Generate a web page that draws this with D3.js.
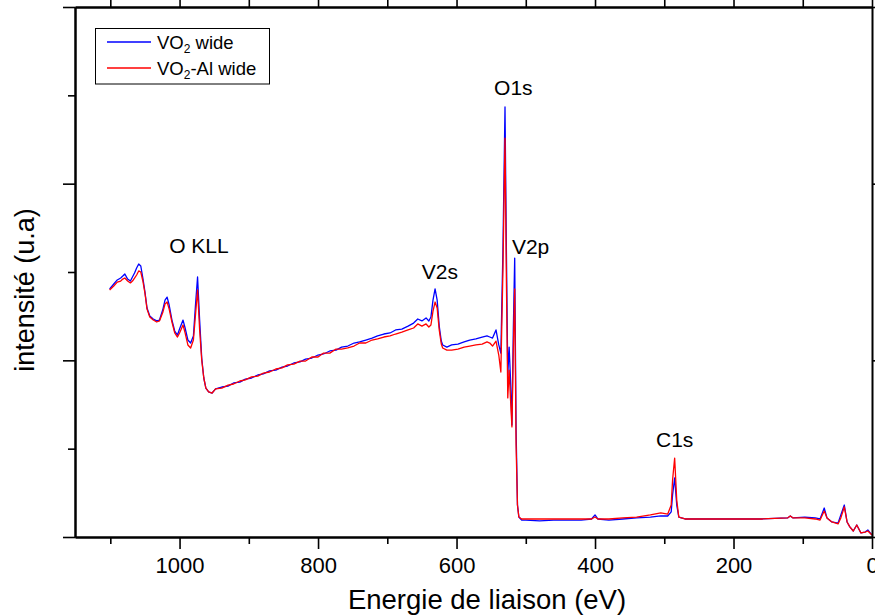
<!DOCTYPE html>
<html>
<head>
<meta charset="utf-8">
<script src="https://cdn.jsdelivr.net/npm/d3@7"></script>
<style>
  html, body { margin: 0; padding: 0; background: #fff; }
  svg { display: block; font-family: "Liberation Sans", Arial, sans-serif; }
</style>
</head>
<body>
<svg id="chart" width="875" height="616"></svg>
<script>
// Binding energy (eV)
const energies = [1101,1095,1090,1085,1082,1079,1075,1071,1068,1065,1062,1059,1056,1053,1050,1047,1043,1038,1033,1029,1024,1021,1018,1015,1011,1007,1003,1000,995,992,988,984,980,977,974,971,968,965,962,958,953,948,
939,930,922,913,905,896,887,879,870,861,852,844,835,826,818,809,800,792,783,774,766,757,748,740,731,722,714,705,696,688,679,670,662,656,650,644,640,637,634,631,628,625,622,620,614,607,598,589,581,572,563,556,552,548,543,539,536,533,530,528,526,524,522,520,518,516,514,512,510,506,
500,480,460,440,420,405,400,396,380,360,340,320,305,295,290,288,285,282,279,270,240,200,160,122,118,114,97,82,75,69,65,58,49,45,40,36,32,27,22,16,10,6,0];

// VO2 wide (blue)
const vo2Wide = [140.4,143.2,145.5,146.6,147.7,148.9,146.0,144.9,147.2,149.4,152.3,154.5,153.4,146.6,138.7,129.6,125.1,123.4,122.3,122.8,129.0,134.1,135.8,131.3,122.8,116.6,114.3,117.7,122.8,118.3,111.5,109.8,113.8,131.3,147.2,122.8,101.3,90.0,84.3,82.1,81.5,83.8,
84.9,85.4,87.2,87.7,89.4,90.0,91.7,92.3,94.0,94.5,96.2,96.8,98.5,99.1,100.7,101.3,103.0,103.6,105.3,105.8,107.5,108.1,109.8,110.4,111.5,112.6,113.8,114.9,115.5,117.2,117.7,119.4,121.1,123.4,122.3,124.0,122.3,124.5,134.1,140.4,134.1,119.4,110.9,108.7,107.5,108.7,109.2,110.4,111.5,112.1,113.2,113.8,113.2,112.6,117.2,108.7,104.1,162.4,243.4,162.4,91.7,107.5,88.9,63.4,117.2,157.9,60.6,18.1,11.3,9.6,
9.6,9.1,9.6,9.6,9.6,10.2,12.5,10.2,9.6,10.2,10.8,11.3,11.9,11.9,14.2,23.8,33.4,18.1,11.3,10.2,10.2,10.2,10.2,10.8,11.9,10.8,11.3,10.8,10.2,16.4,10.8,8.5,7.9,12.5,18.1,8.5,5.7,3.4,6.8,2.3,2.8,4.0,1.1];

// VO2-Al wide (red)
const vo2AlWide = [139.8,142.1,144.3,144.9,146.0,146.6,144.9,143.8,144.9,146.6,148.3,150.6,150.0,144.9,138.1,129.0,124.5,122.8,121.7,122.3,127.4,131.9,133.0,129.0,121.7,115.5,113.2,115.5,120.0,115.5,108.7,107.0,111.5,125.7,139.8,117.2,100.2,90.0,84.3,82.1,81.5,83.8,
84.3,86.0,86.6,88.3,88.9,90.6,91.1,92.8,93.4,95.1,95.7,97.4,97.9,99.6,99.6,101.9,101.9,104.1,104.1,106.4,106.4,107.0,108.1,109.8,109.8,111.5,112.1,113.2,113.8,114.9,116.0,117.2,118.3,120.6,119.4,120.6,118.9,120.0,127.9,133.0,129.6,117.2,109.2,107.0,105.8,105.8,106.4,107.5,108.1,108.7,109.2,110.4,109.8,108.1,110.9,103.0,93.4,151.1,225.8,145.5,78.7,94.5,77.5,62.3,105.8,140.4,52.1,18.1,11.3,10.2,
10.2,10.2,10.2,10.2,10.2,10.2,11.3,10.2,10.2,10.8,11.3,12.5,13.6,13.0,18.1,32.3,44.7,20.9,11.3,10.2,10.2,10.2,10.2,10.8,11.9,10.8,10.8,10.2,9.6,14.7,10.8,8.5,7.4,10.8,17.0,8.5,5.7,3.4,6.8,2.3,2.8,3.4,1.1];

const xMajorTicks = [1000, 800, 600, 400, 200, 0];
const xMinorTicks = [1100, 900, 700, 500, 300, 100];
const yMajorTicks = [0, 100, 200, 300];
const yMinorTicks = [50, 150, 250];

const peakLabels = ["O KLL", "O1s", "V2p", "V2s", "C1s"];
const peakLabelEnergy = [972, 518, 493, 624, 285];
const peakLabelValue = [161, 250, 160, 146, 51];

const seriesNames = ["VO2 wide", "VO2-Al wide"];
const seriesColors = ["#0000ff", "#ff0000"];

if (vo2Wide.length !== energies.length || vo2AlWide.length !== energies.length) {
  console.error("length mismatch", energies.length, vo2Wide.length, vo2AlWide.length);
}

const svg = d3.select("#chart");
const W = 875, H = 616;
const m = { left: 75, top: 7, right: 3, bottom: 79 };

const x = d3.scaleLinear().domain([1151, 0]).range([m.left, W - m.right]);
const y = d3.scaleLinear().domain([0, 300]).range([H - m.bottom, m.top]);

// data lines
const line = d3.line().x(d => x(d[0])).y(d => y(d[1]));
const seriesData = [vo2Wide, vo2AlWide];
seriesData.forEach((vals, i) => {
  svg.append("path")
    .datum(energies.map((e, k) => [e, vals[k]]))
    .attr("fill", "none")
    .attr("stroke", seriesColors[i])
    .attr("stroke-width", 1.3)
    .attr("stroke-linejoin", "round")
    .attr("d", line);
});

// axes
function styleAxis(g, width) {
  g.selectAll("path.domain").attr("stroke", "#000").attr("stroke-width", width);
  g.selectAll(".tick line").attr("stroke", "#000").attr("stroke-width", 1.6);
}

const bottomY = H - m.bottom, topY = m.top, leftX = m.left, rightX = W - m.right;

const gxB = svg.append("g").attr("transform", `translate(0,${bottomY})`)
  .call(d3.axisBottom(x).tickValues(xMajorTicks).tickSize(12).tickSizeOuter(0).tickPadding(8).tickFormat(d3.format("d")));
styleAxis(gxB, 2);
gxB.selectAll(".tick text").attr("font-size", 22).attr("font-family", "Liberation Sans, Arial, sans-serif").attr("fill", "#000");
const gxBm = svg.append("g").attr("transform", `translate(0,${bottomY})`)
  .call(d3.axisBottom(x).tickValues(xMinorTicks).tickSize(7).tickSizeOuter(0).tickFormat(""));
styleAxis(gxBm, 2);

const gxT = svg.append("g").attr("transform", `translate(0,${topY})`)
  .call(d3.axisTop(x).tickValues(xMajorTicks).tickSize(12).tickSizeOuter(0).tickFormat(""));
styleAxis(gxT, 2);
const gxTm = svg.append("g").attr("transform", `translate(0,${topY})`)
  .call(d3.axisTop(x).tickValues(xMinorTicks).tickSize(7).tickSizeOuter(0).tickFormat(""));
styleAxis(gxTm, 2);

const gyL = svg.append("g").attr("transform", `translate(${leftX},0)`)
  .call(d3.axisLeft(y).tickValues(yMajorTicks).tickSize(12).tickSizeOuter(0).tickFormat(""));
styleAxis(gyL, 2);
const gyLm = svg.append("g").attr("transform", `translate(${leftX},0)`)
  .call(d3.axisLeft(y).tickValues(yMinorTicks).tickSize(7).tickSizeOuter(0).tickFormat(""));
styleAxis(gyLm, 2);

const gyR = svg.append("g").attr("transform", `translate(${rightX},0)`)
  .call(d3.axisRight(y).tickValues(yMajorTicks).tickSize(12).tickSizeOuter(0).tickFormat(""));
styleAxis(gyR, 2);

// axis titles
svg.append("text")
  .attr("x", 487).attr("y", 609)
  .attr("text-anchor", "middle")
  .attr("font-size", 27.5)
  .text("Energie de liaison (eV)");

svg.append("text")
  .attr("transform", `translate(34,290) rotate(-90)`)
  .attr("text-anchor", "middle")
  .attr("font-size", 27)
  .text("intensité (u.a)");

// peak labels
peakLabels.forEach((t, i) => {
  svg.append("text")
    .attr("x", x(peakLabelEnergy[i]))
    .attr("y", y(peakLabelValue[i]))
    .attr("text-anchor", "middle")
    .attr("font-size", 21)
    .text(t);
});

// legend
const lg = svg.append("g");
lg.append("rect")
  .attr("x", 95.5).attr("y", 28.5).attr("width", 174).attr("height", 55.5)
  .attr("fill", "#fff").attr("stroke", "#000").attr("stroke-width", 1);
const legendRows = [42, 68];
seriesNames.forEach((name, i) => {
  const yy = legendRows[i];
  lg.append("line")
    .attr("x1", 107).attr("x2", 151).attr("y1", yy).attr("y2", yy)
    .attr("stroke", seriesColors[i]).attr("stroke-width", 1.3);
  const t = lg.append("text").attr("x", 157).attr("y", yy + 6.5).attr("font-size", 18.5);
  const parts = name.split("2");
  t.append("tspan").text(parts[0]);
  t.append("tspan").attr("font-size", 12).attr("dy", 4).text("2");
  t.append("tspan").attr("dy", -4).text(parts[1]);
});
</script>
</body>
</html>
